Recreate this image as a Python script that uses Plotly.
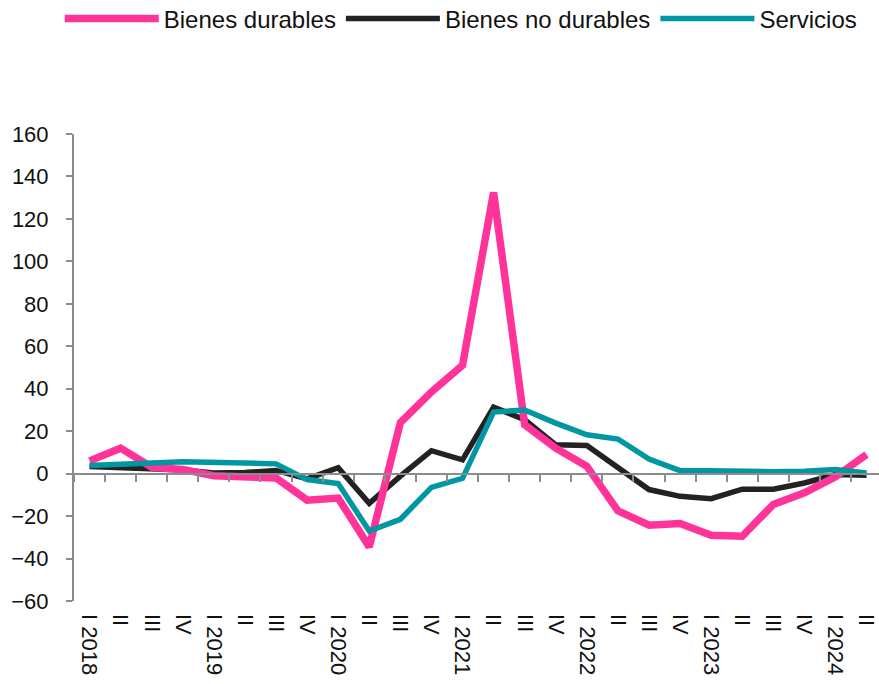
import plotly.graph_objects as go

years = ["2018", "2019", "2020", "2021", "2022", "2023", "2024"]
quarters = ["I", "II", "III", "IV"]
n_points = 26

categories = [f"{y}-{q}" for y in years for q in quarters][:n_points]
tick_labels = [(f"{q} {y}" if q == "I" else q) for y in years for q in quarters][:n_points]

bienes_durables = [6, 12, 3, 2, -1, -1.5, -2, -12.5, -11.5, -34.5, 24, 38.5, 51, 132.5,
                   23, 12, 3.5, -17.5, -24.3, -23.5, -29, -29.5, -14.5, -9, -1.5, 9]
bienes_no_durables = [3.4, 3, 2, 1.7, 0.3, 0.5, 1.5, -2.5, 2.8, -14, -1.2, 10.8, 6.5, 31.3,
                      25.4, 13.6, 13.3, 3, -7.5, -10.7, -11.8, -7.3, -7.3, -4.4, -0.4, -0.8]
servicios = [3.8, 4.7, 5, 5.6, 5.6, 5, 4.6, -2.8, -4.7, -27, -21.5, -6.5, -2.2, 29,
             30, 23.8, 18.3, 16.3, 6.9, 1.4, 1.4, 1, 0.9, 1.1, 2, 0.3]

FONT = "Arial, Liberation Sans, sans-serif"
AXIS_GRAY = "#8c8c8c"

fig = go.Figure()
fig.add_trace(go.Scatter(x=categories, y=bienes_no_durables, name="Bienes no durables",
                         mode="lines", line=dict(color="#222222", width=5.5), legendrank=2))
fig.add_trace(go.Scatter(x=categories, y=bienes_durables, name="Bienes durables",
                         mode="lines", line=dict(color="#FF3399", width=7.5), legendrank=1))
fig.add_trace(go.Scatter(x=categories, y=servicios, name="Servicios",
                         mode="lines", line=dict(color="#0097A3", width=5.5), legendrank=3))
# carrier trace so the zero-line axis gets the same categories
fig.add_trace(go.Scatter(x=categories, y=[None] * n_points, xaxis="x2", showlegend=False,
                         hoverinfo="skip", mode="lines"))

x_range = [-0.5, 25.4]
fig.update_layout(
    width=879, height=684,
    margin=dict(l=74, r=0, t=134, b=83),
    paper_bgcolor="white", plot_bgcolor="white",
    font=dict(family=FONT, size=20, color="#111111"),
    showlegend=True,
    legend=dict(orientation="h", xref="container", yref="container",
                x=0.068, y=1 - 19 / 684, xanchor="left", yanchor="middle",
                font=dict(size=24, family=FONT, color="#111111"),
                itemwidth=94, traceorder="normal", bgcolor="rgba(0,0,0,0)"),
    xaxis=dict(type="category", range=x_range, showgrid=False, zeroline=False,
               showline=False, ticks="", tickmode="array", tickvals=categories,
               ticktext=tick_labels, tickangle=90, ticklabelstandoff=12,
               tickfont=dict(size=22, family=FONT, color="#111111")),
    xaxis2=dict(type="category", range=x_range, overlaying="x", anchor="free",
                position=60 / 220, showgrid=False, zeroline=False, showline=True,
                linecolor=AXIS_GRAY, linewidth=2, ticks="outside", tickson="boundaries",
                ticklen=7, tickwidth=2, tickcolor=AXIS_GRAY, showticklabels=False),
    yaxis=dict(range=[-60, 160], dtick=20, showgrid=False, zeroline=False,
               showline=True, linecolor=AXIS_GRAY, linewidth=2, ticks="outside",
               ticklen=6, tickwidth=2, tickcolor=AXIS_GRAY, ticklabelstandoff=13,
               tickfont=dict(size=22, family=FONT, color="#111111")),
)

fig.write_html("out.html")
